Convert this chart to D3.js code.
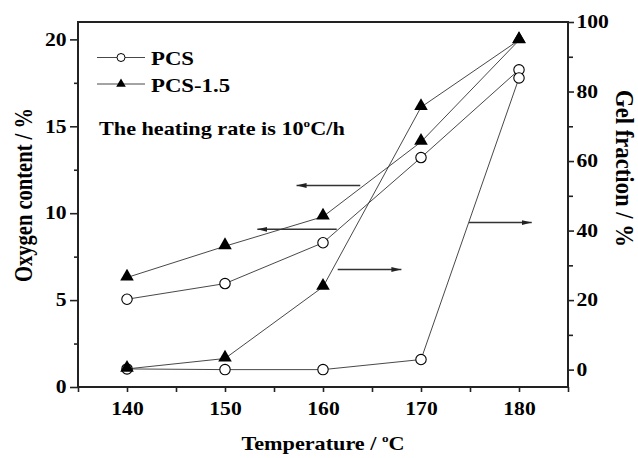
<!DOCTYPE html>
<html>
<head>
<meta charset="utf-8">
<script src="https://cdn.jsdelivr.net/npm/d3@7"></script>
<style>
  body { margin: 0; background: #fff; }
  svg { display: block; }
  text { font-family: "Liberation Serif", "Times New Roman", serif; font-weight: bold; fill: #000; }
</style>
</head>
<body>
<div id="chart"></div>
<script>
// temperatures (x) and the four series
const temps = [140, 150, 160, 170, 180];
const oxyPCS = [5.05, 5.95, 8.3, 13.2, 18.25];     // left axis
const oxyPCS15 = [6.3, 8.1, 9.8, 14.1, 19.95];     // left axis
const gelPCS = [0.2, 0, 0, 2.9, 83.9];             // right axis
const gelPCS15 = [0.2, 3.2, 23.8, 75.5, 94.8];     // right axis

const xTicks = [140, 150, 160, 170, 180];
const xMinor = [135, 145, 155, 165, 175, 185];
const leftTicks = [0, 5, 10, 15, 20];
const leftMinor = [2.5, 7.5, 12.5, 17.5];
const rightTicks = [0, 20, 40, 60, 80, 100];
const rightMinor = [10, 30, 50, 70, 90];

// annotation arrows, in data units (temperature, axis value)
const arrows = [
  { from: 163.8, to: 157.3, v: 11.6, axis: "left" },
  { from: 161.4, to: 153.3, v: 9.07, axis: "left" },
  { from: 161.5, to: 168.0, v: 28.8, axis: "right" },
  { from: 174.9, to: 181.3, v: 42.3, axis: "right" }
];

const W = 638, H = 458;
const margin = { top: 22, right: 70, bottom: 71, left: 78 };
const width = W - margin.left - margin.right,
      height = H - margin.top - margin.bottom;
const SX = 1.2; // text in the picture is a bit wide

const x = d3.scaleLinear().domain([135, 185]).range([0, width]);
const yL = d3.scaleLinear().domain([0, 21]).range([height, 0]);
const yR = d3.scaleLinear().domain([-5, 100]).range([height, 0]);

const svg = d3.select("#chart").append("svg")
    .attr("width", W).attr("height", H);

svg.append("defs").append("marker")
    .attr("id", "head")
    .attr("markerUnits", "userSpaceOnUse")
    .attr("markerWidth", 10).attr("markerHeight", 6)
    .attr("refX", 10).attr("refY", 3)
    .attr("orient", "auto")
    .append("path").attr("d", "M0,0.5L10,3L0,5.5Z").attr("fill", "#222");

const g = svg.append("g").attr("transform", `translate(${margin.left},${margin.top})`);

function styleAxis(sel) {
    sel.select(".domain").remove();
    sel.selectAll("line").attr("stroke", "#222").attr("stroke-width", 1.6);
    sel.selectAll("text")
        .attr("font-size", 18)
        .attr("font-family", null)
        .attr("transform", `scale(${SX},1)`);
}

// bottom axis
g.append("g").attr("transform", `translate(0,${height})`)
    .call(d3.axisBottom(x).tickValues(xTicks).tickSize(5).tickPadding(10).tickFormat(d3.format("d")))
    .call(styleAxis);
g.append("g").attr("transform", `translate(0,${height})`)
    .call(d3.axisBottom(x).tickValues(xMinor).tickSize(5).tickFormat(""))
    .call(styleAxis);

// left axis
g.append("g")
    .call(d3.axisLeft(yL).tickValues(leftTicks).tickSize(8).tickPadding(1.5))
    .call(styleAxis);
g.append("g")
    .call(d3.axisLeft(yL).tickValues(leftMinor).tickSize(4).tickFormat(""))
    .call(styleAxis);

// right axis
g.append("g").attr("transform", `translate(${width},0)`)
    .call(d3.axisRight(yR).tickValues(rightTicks).tickSize(6).tickPadding(1))
    .call(styleAxis);
g.append("g").attr("transform", `translate(${width},0)`)
    .call(d3.axisRight(yR).tickValues(rightMinor).tickSize(5).tickFormat(""))
    .call(styleAxis);

// frame
g.append("rect")
    .attr("width", width).attr("height", height)
    .attr("fill", "none").attr("stroke", "#222").attr("stroke-width", 2);

// series
const series = [
  { vals: oxyPCS, y: yL, sym: "circle" },
  { vals: gelPCS, y: yR, sym: "circle" },
  { vals: oxyPCS15, y: yL, sym: "triangle" },
  { vals: gelPCS15, y: yR, sym: "triangle" }
];

series.forEach(s => {
    const pts = temps.map((t, i) => [t, s.vals[i]]);
    g.append("path")
        .datum(pts)
        .attr("d", d3.line().x(d => x(d[0])).y(d => s.y(d[1])))
        .attr("fill", "none")
        .attr("stroke", "#333")
        .attr("stroke-width", 0.9);
});

const tri = d3.symbol(d3.symbolTriangle).size(80);
series.forEach(s => {
    const pts = temps.map((t, i) => [t, s.vals[i]]);
    if (s.sym === "circle") {
        g.selectAll(null).data(pts).enter().append("circle")
            .attr("cx", d => x(d[0])).attr("cy", d => s.y(d[1]))
            .attr("r", 5.2)
            .attr("fill", "#fff").attr("stroke", "#000").attr("stroke-width", 1.1);
    }
});
series.forEach(s => {
    const pts = temps.map((t, i) => [t, s.vals[i]]);
    if (s.sym === "triangle") {
        g.selectAll(null).data(pts).enter().append("path")
            .attr("d", tri)
            .attr("transform", d => `translate(${x(d[0])},${s.y(d[1]) - 1})`)
            .attr("fill", "#000");
    }
});

// arrows
arrows.forEach(a => {
    const yy = a.axis === "left" ? yL(a.v) : yR(a.v);
    g.append("line")
        .attr("x1", x(a.from)).attr("x2", x(a.to))
        .attr("y1", yy).attr("y2", yy)
        .attr("stroke", "#333").attr("stroke-width", 1.5)
        .attr("marker-end", "url(#head)");
});

// legend
const legend = svg.append("g");
const legendItems = [
  { name: "PCS", sym: "circle", y: 57.5, base: 65 },
  { name: "PCS-1.5", sym: "triangle", y: 84, base: 91.5 }
];
legendItems.forEach(it => {
    legend.append("line")
        .attr("x1", 97).attr("x2", 145).attr("y1", it.y).attr("y2", it.y)
        .attr("stroke", "#333").attr("stroke-width", 0.9);
    if (it.sym === "circle") {
        legend.append("circle").attr("cx", 121).attr("cy", it.y).attr("r", 4)
            .attr("fill", "#fff").attr("stroke", "#000").attr("stroke-width", 1);
    } else {
        legend.append("path").attr("d", d3.symbol(d3.symbolTriangle).size(40))
            .attr("transform", `translate(121,${it.y})`).attr("fill", "#000");
    }
    legend.append("text")
        .attr("transform", `translate(151,${it.base}) scale(${SX},1)`)
        .attr("font-size", 19)
        .text(it.name);
});

const note = svg.append("text")
    .attr("transform", `translate(99,135) scale(${SX},1)`)
    .attr("font-size", 18.5);
note.append("tspan").text("The heating rate is 10");
note.append("tspan").attr("font-size", 11).attr("dy", -8).text("o");
note.append("tspan").attr("dy", 8).text("C/h");

// axis titles
const xt = svg.append("text")
    .attr("transform", `translate(${margin.left + width / 2},450) scale(${SX},1)`)
    .attr("text-anchor", "middle")
    .attr("font-size", 18.5);
xt.append("tspan").text("Temperature / ");
xt.append("tspan").attr("font-size", 11).attr("dy", -8).text("o");
xt.append("tspan").attr("dy", 8).text("C");

svg.append("text")
    .attr("transform", `translate(31.5,195) rotate(-90) scale(1,${SX})`)
    .attr("text-anchor", "middle")
    .attr("font-size", 20.5)
    .attr("textLength", 174).attr("lengthAdjust", "spacingAndGlyphs")
    .text("Oxygen content / %");

svg.append("text")
    .attr("transform", `translate(616,168.5) rotate(90) scale(1,${SX})`)
    .attr("text-anchor", "middle")
    .attr("font-size", 20.5)
    .attr("textLength", 157).attr("lengthAdjust", "spacingAndGlyphs")
    .text("Gel fraction / %");
</script>
</body>
</html>
